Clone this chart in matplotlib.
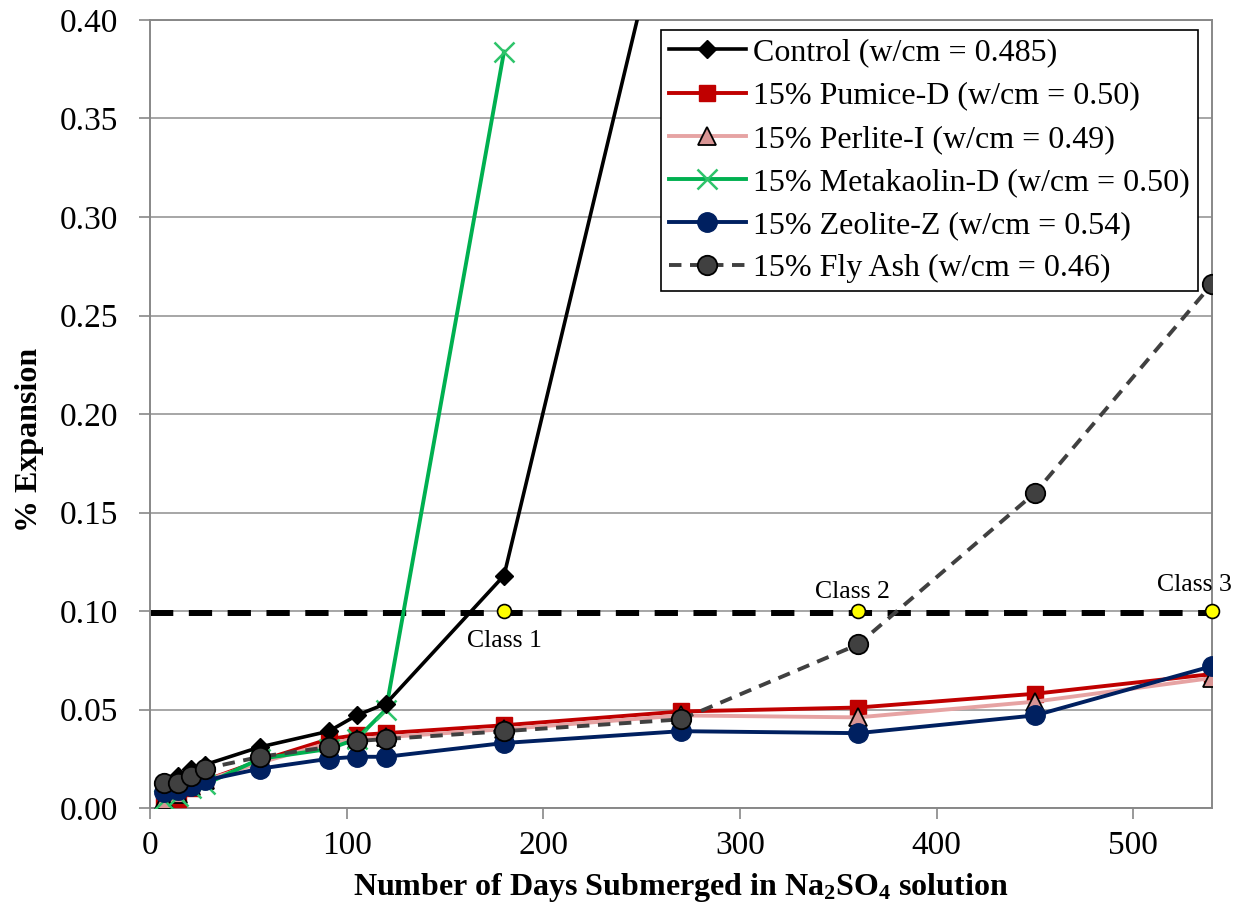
import matplotlib
matplotlib.use("Agg")
import matplotlib.pyplot as plt

plt.rcParams['font.family'] = ['Liberation Serif', 'DejaVu Serif']
plt.rcParams['mathtext.default'] = 'regular'

# Days of exposure
days = [7, 14, 21, 28, 56, 91, 105, 120, 180, 270, 360, 450, 540]
days_control = [7, 14, 21, 28, 56, 91, 105, 120, 180, 270]
days_meta = [7, 14, 21, 28, 56, 91, 105, 120, 180]

# % expansion
control = [0.012, 0.016, 0.020, 0.022, 0.031, 0.039, 0.047, 0.053, 0.118, 0.493]
pumice = [0.001, 0.0045, 0.010, 0.014, 0.024, 0.035, 0.037, 0.038, 0.042, 0.049, 0.051, 0.058, 0.068]
perlite = [0.004, 0.007, 0.011, 0.014, 0.023, 0.033, 0.035, 0.036, 0.040, 0.047, 0.046, 0.054, 0.066]
metakaolin = [0.004, 0.006, 0.010, 0.012, 0.025, 0.030, 0.035, 0.050, 0.384]
zeolite = [0.008, 0.009, 0.011, 0.014, 0.020, 0.025, 0.026, 0.026, 0.033, 0.039, 0.038, 0.047, 0.072]
flyash = [0.0125, 0.0125, 0.016, 0.020, 0.026, 0.031, 0.034, 0.035, 0.039, 0.045, 0.083, 0.160, 0.266]

# ASTM C1012 limit and class points
limit = 0.099
class_days = [180, 360, 540]
class_labels = ["Class 1", "Class 2", "Class 3"]

fig = plt.figure(figsize=(12.44, 9.09), dpi=100)
ax = fig.add_axes([0.1206, 0.1111, 0.8537, 0.8669])

ax.axhline(limit, color="black", lw=4.3, dashes=(3.9, 2.6), zorder=2)

ax.plot(days_control, control, color="black", lw=2.6, marker="D", ms=9,
        label="Control (w/cm = 0.485)", zorder=5)
ax.plot(days, pumice, color="#C00000", lw=2.8, marker="s", ms=11,
        label="15% Pumice-D (w/cm = 0.50)", zorder=4)
ax.plot(days, perlite, color="#E6A3A3", lw=2.8, marker="^", ms=13,
        markerfacecolor="#D99594", markeredgecolor="black", markeredgewidth=1.3,
        label="15% Perlite-I (w/cm = 0.49)", zorder=4)
ax.plot(days_meta, metakaolin, color="#00B050", lw=2.8, marker="x", ms=14,
        markeredgecolor="#2EC46A", markeredgewidth=1.8,
        label="15% Metakaolin-D (w/cm = 0.50)", zorder=4)
ax.plot(days, zeolite, color="#002060", lw=2.8, marker="o", ms=14,
        label="15% Zeolite-Z (w/cm = 0.54)", zorder=4)
ax.plot(days, flyash, color="#404040", lw=2.8, dashes=(3.2, 2.2), marker="o", ms=14,
        markerfacecolor="#404040", markeredgecolor="black", markeredgewidth=1.3,
        label="15% Fly Ash (w/cm = 0.46)", zorder=6)

ax.plot(class_days, [0.10] * 3, linestyle="none", marker="o", ms=10,
        markerfacecolor="#FFFF00", markeredgecolor="black", markeredgewidth=1.2,
        zorder=7, clip_on=False)

ax.text(180, 0.0848, class_labels[0], ha="center", va="center", fontsize=18.5)
ax.text(357, 0.1096, class_labels[1], ha="center", va="center", fontsize=18.5)
ax.text(531, 0.1132, class_labels[2], ha="center", va="center", fontsize=18.5)

ax.set_xlim(0, 540)
ax.set_ylim(0, 0.40)
ax.set_xticks([0, 100, 200, 300, 400, 500])
ax.set_yticks([0.00, 0.05, 0.10, 0.15, 0.20, 0.25, 0.30, 0.35, 0.40])
ax.set_yticklabels(["%.2f" % v for v in ax.get_yticks()])
ax.tick_params(axis="both", labelsize=24, direction="out", length=8, width=1.2,
               color="#888888")
ax.tick_params(axis="y", pad=15)
ax.tick_params(axis="x", pad=8)
ax.yaxis.grid(True, color="#A6A6A6", lw=1.4)
ax.set_axisbelow(True)
for side in ["left", "right", "top", "bottom"]:
    ax.spines[side].set_color("#888888")
    ax.spines[side].set_linewidth(1.4)

ax.set_xlabel("Number of Days Submerged in Na$_2$SO$_4$ solution",
              fontsize=23, fontweight="bold")
ax.xaxis.set_label_coords(0.5, -0.080)
ax.set_ylabel("% Expansion", fontsize=23, fontweight="bold")
ax.yaxis.set_label_coords(-0.100, 0.467)

leg = ax.legend(loc="upper right", bbox_to_anchor=(0.987, 0.987), fontsize=23,
                frameon=True, fancybox=False, framealpha=1, edgecolor="black",
                handlelength=2.4, handletextpad=0.25, borderpad=0.25,
                labelspacing=0.43, borderaxespad=0)
leg.get_frame().set_linewidth(1.2)

fig.savefig("out.png", dpi=100)
